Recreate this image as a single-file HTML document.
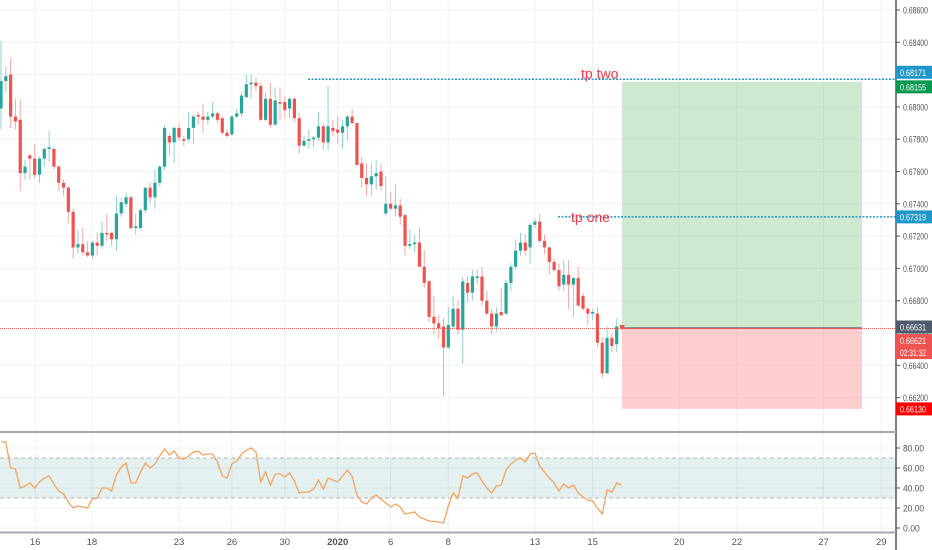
<!DOCTYPE html>
<html><head><meta charset="utf-8"><style>
html,body{margin:0;padding:0;background:#fff;}
svg{display:block;font-family:"Liberation Sans",sans-serif;}
</style></head><body>
<svg id="chart" width="932" height="550" viewBox="0 0 932 550" xmlns="http://www.w3.org/2000/svg">
<g id="grid"></g>
<g id="zones"></g>
<g id="candles"></g>
<g id="rsi"></g>
<g id="overlay"></g>
<g id="axes"></g>
</svg>
<script>
const opens=[0.6799,0.6816,0.6820,0.6794,0.6792,0.6759,0.6770,0.6768,0.6758,0.6768,0.6774,0.6774,0.6763,0.6753,0.6750,0.6735,0.6713,0.6715,0.6710,0.6708,0.6716,0.6714,0.6722,0.6722,0.6718,0.6734,0.6740,0.6744,0.6725,0.6725,0.6736,0.6750,0.6744,0.6753,0.6763,0.6782,0.6778,0.6787,0.6780,0.6780,0.6787,0.6795,0.6794,0.6792,0.6794,0.6796,0.6793,0.6784,0.6783,0.6794,0.6796,0.6806,0.6814,0.6815,0.6813,0.6792,0.6805,0.6789,0.6803,0.6803,0.6799,0.6805,0.6793,0.6776,0.6779,0.6780,0.6781,0.6788,0.6778,0.6787,0.6786,0.6784,0.6788,0.6794,0.6790,0.6765,0.6756,0.6752,0.6757,0.6760,0.6734,0.6740,0.6737,0.6739,0.6733,0.6714,0.6715,0.6716,0.6701,0.6692,0.6670,0.6666,0.6664,0.6651,0.6664,0.6675,0.6662,0.6691,0.6685,0.6694,0.6695,0.6680,0.6672,0.6664,0.6673,0.6672,0.6691,0.6701,0.6711,0.6716,0.6713,0.6727,0.6729,0.6717,0.6713,0.6704,0.6699,0.6690,0.6696,0.6690,0.6694,0.6683,0.6675,0.6672,0.6672,0.6654,0.6635,0.6657,0.6653,0.6664];
const highs=[0.6841,0.6825,0.6830,0.6805,0.6805,0.6767,0.6771,0.6777,0.6769,0.6775,0.6785,0.6775,0.6764,0.6755,0.6751,0.6737,0.6724,0.6725,0.6717,0.6717,0.6722,0.6729,0.6734,0.6723,0.6745,0.6744,0.6747,0.6745,0.6734,0.6737,0.6750,0.6753,0.6761,0.6764,0.6789,0.6784,0.6788,0.6790,0.6782,0.6797,0.6795,0.6797,0.6802,0.6797,0.6803,0.6797,0.6794,0.6786,0.6795,0.6799,0.6809,0.6820,0.6820,0.6818,0.6815,0.6809,0.6815,0.6812,0.6812,0.6807,0.6806,0.6806,0.6796,0.6782,0.6786,0.6782,0.6797,0.6790,0.6813,0.6792,0.6794,0.6792,0.6795,0.6799,0.6790,0.6769,0.6765,0.6765,0.6767,0.6765,0.6757,0.6747,0.6752,0.6743,0.6734,0.6724,0.6721,0.6725,0.6711,0.6693,0.6683,0.6671,0.6669,0.6676,0.6683,0.6680,0.6695,0.6695,0.6699,0.6699,0.6701,0.6686,0.6675,0.6676,0.6688,0.6693,0.6703,0.6718,0.6722,0.6721,0.6728,0.6731,0.6734,0.6721,0.6713,0.6706,0.6703,0.6705,0.6705,0.6695,0.6701,0.6685,0.6676,0.6675,0.6676,0.6657,0.6664,0.6660,0.6669,0.6665];
const lows=[0.6786,0.6809,0.6787,0.6786,0.6748,0.6755,0.6755,0.6756,0.6753,0.6763,0.6766,0.6761,0.6748,0.6745,0.6728,0.6706,0.6709,0.6708,0.6707,0.6706,0.6708,0.6712,0.6717,0.6714,0.6711,0.6732,0.6738,0.6724,0.6721,0.6724,0.6734,0.6740,0.6737,0.6751,0.6761,0.6770,0.6765,0.6779,0.6776,0.6778,0.6777,0.6789,0.6784,0.6789,0.6793,0.6790,0.6783,0.6781,0.6782,0.6793,0.6794,0.6806,0.6805,0.6810,0.6791,0.6791,0.6787,0.6788,0.6792,0.6793,0.6793,0.6791,0.6771,0.6775,0.6774,0.6775,0.6779,0.6774,0.6773,0.6782,0.6777,0.6774,0.6779,0.6789,0.6764,0.6750,0.6745,0.6745,0.6749,0.6748,0.6732,0.6736,0.6732,0.6727,0.6708,0.6712,0.6710,0.6701,0.6688,0.6667,0.6659,0.6656,0.6621,0.6650,0.6663,0.6659,0.6641,0.6679,0.6680,0.6690,0.6677,0.6671,0.6659,0.6661,0.6671,0.6671,0.6686,0.6699,0.6708,0.6708,0.6703,0.6725,0.6716,0.6709,0.6696,0.6698,0.6686,0.6686,0.6675,0.6670,0.6676,0.6674,0.6665,0.6668,0.6651,0.6632,0.6635,0.6648,0.6648,0.6662];
const closes=[0.6816,0.6819,0.6794,0.6791,0.6759,0.6763,0.6768,0.6758,0.6768,0.6774,0.6775,0.6763,0.6753,0.6750,0.6735,0.6713,0.6715,0.6710,0.6708,0.6716,0.6714,0.6722,0.6721,0.6718,0.6734,0.6741,0.6744,0.6725,0.6726,0.6736,0.6750,0.6744,0.6753,0.6763,0.6787,0.6778,0.6787,0.6781,0.6779,0.6787,0.6794,0.6794,0.6792,0.6794,0.6796,0.6792,0.6784,0.6782,0.6794,0.6796,0.6807,0.6814,0.6815,0.6813,0.6792,0.6805,0.6789,0.6804,0.6802,0.6798,0.6805,0.6793,0.6776,0.6779,0.6780,0.6781,0.6788,0.6778,0.6788,0.6785,0.6784,0.6788,0.6794,0.6790,0.6764,0.6756,0.6752,0.6757,0.6759,0.6751,0.6740,0.6737,0.6739,0.6732,0.6714,0.6715,0.6716,0.6701,0.6691,0.6670,0.6666,0.6663,0.6651,0.6665,0.6675,0.6662,0.6692,0.6685,0.6695,0.6695,0.6680,0.6672,0.6664,0.6672,0.6671,0.6691,0.6701,0.6711,0.6716,0.6711,0.6727,0.6729,0.6717,0.6713,0.6704,0.6699,0.6689,0.6696,0.6690,0.6694,0.6677,0.6675,0.6672,0.6673,0.6654,0.6635,0.6657,0.6652,0.6664,0.6663];
const rsiValues=[86,86,60,59,40,42,45,40,46,50,52,44,37,34,26,20,22,21,20,29,30,40,40,37,53,61,65,45,45,56,65,60,64,72,79,73,77,70,69,72,76,77,73,74,74,66,52,50,64,67,74,78,80,76,46,56,43,54,54,51,55,47,35,36,36,39,48,39,50,48,46,52,58,52,33,26,24,30,33,29,25,21,24,21,14,15,16,11,9,7,6.5,6,5,22,35,30,52,50,54,55,47,40,35,42,43,58,64,68,70,66,74,75,62,56,50,45,37,44,40,43,35,31,28,27,20,14,38,36,45,43];
const priceTicks=[0.686,0.684,0.682,0.680,0.678,0.676,0.674,0.672,0.670,0.668,0.666,0.664,0.662];
const priceTickLabels=["0.68600","0.68400","0.68200","0.68000","0.67800","0.67600","0.67400","0.67200","0.67000","0.66800","0.66600","0.66400","0.66200"];
const rsiTicks=[80,60,40,20,0];
const rsiTickLabels=["80.00","60.00","40.00","20.00","0.00"];
const timeLabels=["16","18","23","26","30","2020","6","8","13","15","20","22","27","29"];
const timeLabelIdx=[7.1,18.9,37,48,59,70,81,93,111,123,141,153,171,183];
const entryPrice=0.66631, targetPrice=0.68155, stopPrice=0.66130;
const tpTwo=0.68171, tpOne=0.67319, lastPrice=0.66621;

const NS="http://www.w3.org/2000/svg";
const py=p=>10+(0.686-p)*16150;
const cx=i=>1+i*4.81;
const ry=v=>528-v;
function mk(parent,tag,attrs,text){const e=document.createElementNS(NS,tag);for(const k in attrs)e.setAttribute(k,attrs[k]);if(text!==undefined)e.textContent=text;parent.appendChild(e);return e;}
const grid=document.getElementById('grid'),zones=document.getElementById('zones'),cg=document.getElementById('candles'),rg=document.getElementById('rsi'),ov=document.getElementById('overlay'),ax=document.getElementById('axes');

priceTicks.forEach(p=>{const l=mk(grid,'line',{x1:0,x2:896,y1:py(p),y2:py(p),stroke:'#eef1f6','stroke-width':1});

});
timeLabelIdx.forEach(t=>{const l=mk(grid,'line',{x1:cx(t),x2:cx(t),y1:0,y2:532,stroke:'#eef1f6','stroke-width':1});

});
rsiTicks.forEach(v=>{const l=mk(grid,'line',{x1:0,x2:896,y1:ry(v),y2:ry(v),stroke:'#eef1f6','stroke-width':1});

});

const zx1=622,zx2=862;
let z=mk(zones,'rect',{x:zx1,y:py(targetPrice),width:zx2-zx1,height:py(entryPrice)-py(targetPrice),fill:'rgba(76,175,80,0.27)'});


z=mk(zones,'rect',{x:zx1,y:py(entryPrice),width:zx2-zx1,height:py(stopPrice)-py(entryPrice),fill:'rgba(255,82,82,0.28)'});


z=mk(zones,'line',{x1:zx1,x2:zx2,y1:py(entryPrice),y2:py(entryPrice),stroke:'#6b7280','stroke-width':1.5});



for(let i=0;i<opens.length;i++){
  const up=closes[i]>=opens[i];
  const x=cx(i);
  const w=mk(cg,'line',{x1:x,x2:x,y1:py(highs[i]),y2:py(lows[i]),stroke:up?'#8fd2cb':'#f7a6a4','stroke-width':1});
  
  
  const top=py(Math.max(opens[i],closes[i])),bot=py(Math.min(opens[i],closes[i]));
  const b=mk(cg,'rect',{x:x-1.6,y:top,width:3.2,height:Math.max(1,bot-top),fill:up?'#26a69a':'#ef5350'});
  
  
}

let cl=mk(ov,'line',{x1:0,x2:896,y1:py(lastPrice)-1,y2:py(lastPrice)-1,stroke:'#ef5350','stroke-width':1,'stroke-dasharray':'1 1'});


let t2=mk(ov,'line',{x1:308,x2:896,y1:py(tpTwo),y2:py(tpTwo),stroke:'#2196c8','stroke-width':1.5,'stroke-dasharray':'2 1.5'});


let t2t=mk(ov,'text',{x:581,y:py(tpTwo)-1,fill:'#f23645','font-size':14},'tp two');


let t1=mk(ov,'line',{x1:558,x2:896,y1:py(tpOne),y2:py(tpOne),stroke:'#2196c8','stroke-width':1.5,'stroke-dasharray':'2 1.5'});


let t1t=mk(ov,'text',{x:571,y:py(tpOne)+5,fill:'#f23645','font-size':14},'tp one');



let band=mk(rg,'rect',{x:0,y:ry(70),width:896,height:ry(30)-ry(70),fill:'rgba(0,110,110,0.10)'});


[70,30].forEach(v=>{const l=mk(rg,'line',{x1:0,x2:896,y1:ry(v),y2:ry(v),stroke:'#b2b5be','stroke-width':1,'stroke-dasharray':'4 3'});

});
let pts=rsiValues.map((v,i)=>cx(i).toFixed(1)+','+ry(v).toFixed(1)).join(' ');
let rl=mk(rg,'polyline',{points:pts,fill:'none',stroke:'#f4a460','stroke-width':1.3});



let a=mk(ax,'line',{x1:896,x2:896,y1:0,y2:550,stroke:'#50535e','stroke-width':1.5});


a=mk(ax,'line',{x1:0,x2:896,y1:432,y2:432,stroke:'#a5a8b0','stroke-width':2});


a=mk(ax,'line',{x1:0,x2:896,y1:532.5,y2:532.5,stroke:'#a5a8b0','stroke-width':2});


priceTicks.forEach((p,k)=>{
  const y=py(p);
  const tk=mk(ax,'line',{x1:896,x2:900,y1:y,y2:y,stroke:'#50535e'});
  
  
  const t=mk(ax,'text',{x:903,y:y+3.5,fill:'#50535e','font-size':9.5,textLength:25,lengthAdjust:'spacingAndGlyphs'},priceTickLabels[k]);
  
  
});
rsiTicks.forEach((v,k)=>{
  const y=ry(v);
  const tk=mk(ax,'line',{x1:896,x2:900,y1:y,y2:y,stroke:'#50535e'});
  
  
  const t=mk(ax,'text',{x:903,y:y+3.5,fill:'#50535e','font-size':9.5,textLength:rsiTickLabels[k].length*4.2,lengthAdjust:'spacingAndGlyphs'},rsiTickLabels[k]);
  
  
});
timeLabels.forEach((s,k)=>{
  const t=mk(ax,'text',{x:cx(timeLabelIdx[k]),y:545,fill:'#50535e','font-size':9.5,'text-anchor':'middle','font-weight':s==='2020'?'bold':'normal'},s);
  
  
});
const badges=[[tpTwo,'0.68171','#2196c8',-7],[targetPrice,'0.68155','#089950',5],[tpOne,'0.67319','#2196c8',0],[entryPrice,'0.66631','#4c5a6b',-1],[lastPrice,'0.66621','#ef5350',11],[lastPrice,'02:31:32','#ef5350',23],[stopPrice,'0.66130','#ff0000',0]];
badges.forEach(b=>{
  const y=py(b[0])+b[3];
  const g=mk(ax,'g',{});
  
  
  mk(g,'rect',{x:896,y:y-6.5,width:36,height:13,fill:b[2]});
  mk(g,'text',{x:900,y:y+3.5,fill:'#fff','font-size':9.5,textLength:26,lengthAdjust:'spacingAndGlyphs'},b[1]);
});
let m=mk(ov,'path',{d:'M619 325 L625 325 L622 330 Z',fill:'#ef5350'});


</script>
</body></html>
